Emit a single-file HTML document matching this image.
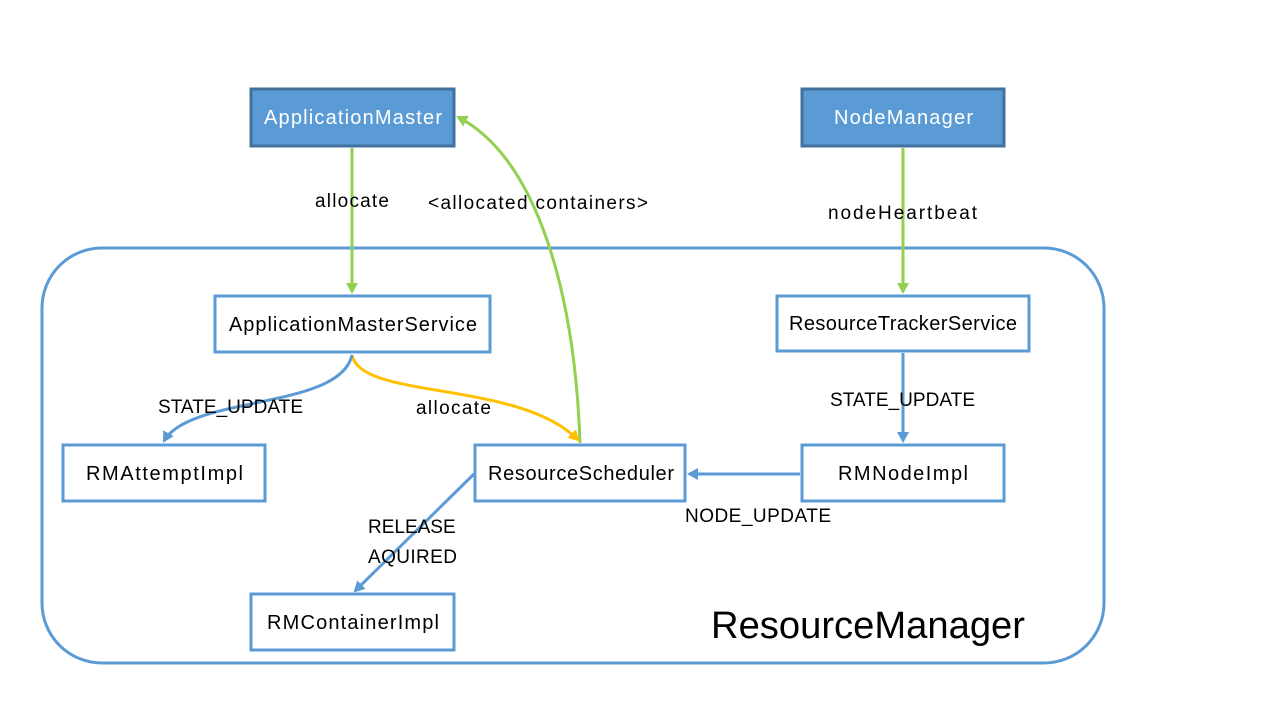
<!DOCTYPE html>
<html><head><meta charset="utf-8"><style>
body{margin:0;width:1280px;height:720px;background:#fff;overflow:hidden}
svg{font-family:"Liberation Sans",sans-serif}
</style></head><body>
<svg width="1280" height="720" viewBox="0 0 1280 720" xmlns="http://www.w3.org/2000/svg">
<defs>
<marker id="ag" markerWidth="12" markerHeight="12" refX="9" refY="6" orient="auto" markerUnits="userSpaceOnUse"><path d="M0,0 L11,6 L0,12 z" fill="#92d050"/></marker>
<marker id="ab" markerWidth="12" markerHeight="12" refX="9" refY="6" orient="auto" markerUnits="userSpaceOnUse"><path d="M0,0 L11,6 L0,12 z" fill="#5b9bd5"/></marker>
<marker id="ay" markerWidth="12" markerHeight="12" refX="9" refY="6" orient="auto" markerUnits="userSpaceOnUse"><path d="M0,0 L11,6 L0,12 z" fill="#ffc000"/></marker>
</defs>
<rect x="42" y="248" width="1062" height="415" rx="60" fill="none" stroke="#5b9bd5" stroke-width="3"/>
<g stroke="#41719c" stroke-width="3" fill="#5b9bd5">
<rect x="251" y="89" width="203" height="57"/>
<rect x="802" y="89" width="202" height="57"/>
</g>
<g stroke="#5b9bd5" stroke-width="3" fill="#fff">
<rect x="215" y="296" width="275" height="56"/>
<rect x="777" y="296" width="252" height="55"/>
<rect x="63" y="445" width="202" height="56"/>
<rect x="475" y="445" width="210" height="56"/>
<rect x="802" y="445" width="202" height="56"/>
<rect x="251" y="594" width="203" height="56"/>
</g>
<g font-size="20" lengthAdjust="spacingAndGlyphs">
<text x="264" y="124" fill="#fff" textLength="178">ApplicationMaster</text>
<text x="834" y="124" fill="#fff" textLength="139">NodeManager</text>
<text x="229" y="331" textLength="248">ApplicationMasterService</text>
<text x="789" y="330" textLength="228">ResourceTrackerService</text>
<text x="86" y="480" textLength="157">RMAttemptImpl</text>
<text x="488" y="480" textLength="186">ResourceScheduler</text>
<text x="838" y="480" textLength="130">RMNodeImpl</text>
<text x="267" y="629" textLength="172">RMContainerImpl</text>
</g>
<g fill="none" stroke-width="3">
<path d="M352,148 L352,292" stroke="#92d050" marker-end="url(#ag)"/>
<path d="M903,148 L903,292" stroke="#92d050" marker-end="url(#ag)"/>
<path d="M580,443 C575,300 540,160 458,117" stroke="#92d050" marker-end="url(#ag)"/>
<path d="M352,355 C360,400 520,380 578,440" stroke="#ffc000" marker-end="url(#ay)"/>
<path d="M352,355 C340,410 190,395 164,441" stroke="#5b9bd5" marker-end="url(#ab)"/>
<path d="M903,353 L903,441" stroke="#5b9bd5" marker-end="url(#ab)"/>
<path d="M800,474 L689,474" stroke="#5b9bd5" marker-end="url(#ab)"/>
<path d="M474,474 L355,591" stroke="#5b9bd5" marker-end="url(#ab)"/>
</g>
<g font-size="19" lengthAdjust="spacingAndGlyphs">
<text x="315" y="207" textLength="74">allocate</text>
<text x="428" y="209" textLength="220">&lt;allocated containers&gt;</text>
<text x="828" y="219" textLength="149">nodeHeartbeat</text>
<text x="158" y="413" textLength="145">STATE_UPDATE</text>
<text x="416" y="414" textLength="75">allocate</text>
<text x="830" y="406" textLength="145">STATE_UPDATE</text>
<text x="685" y="522" textLength="146">NODE_UPDATE</text>
<text x="368" y="533">RELEASE</text>
<text x="368" y="563" textLength="89">AQUIRED</text>
</g>
<text x="711" y="638" font-size="38" textLength="314" lengthAdjust="spacingAndGlyphs">ResourceManager</text>
</svg>
</body></html>
